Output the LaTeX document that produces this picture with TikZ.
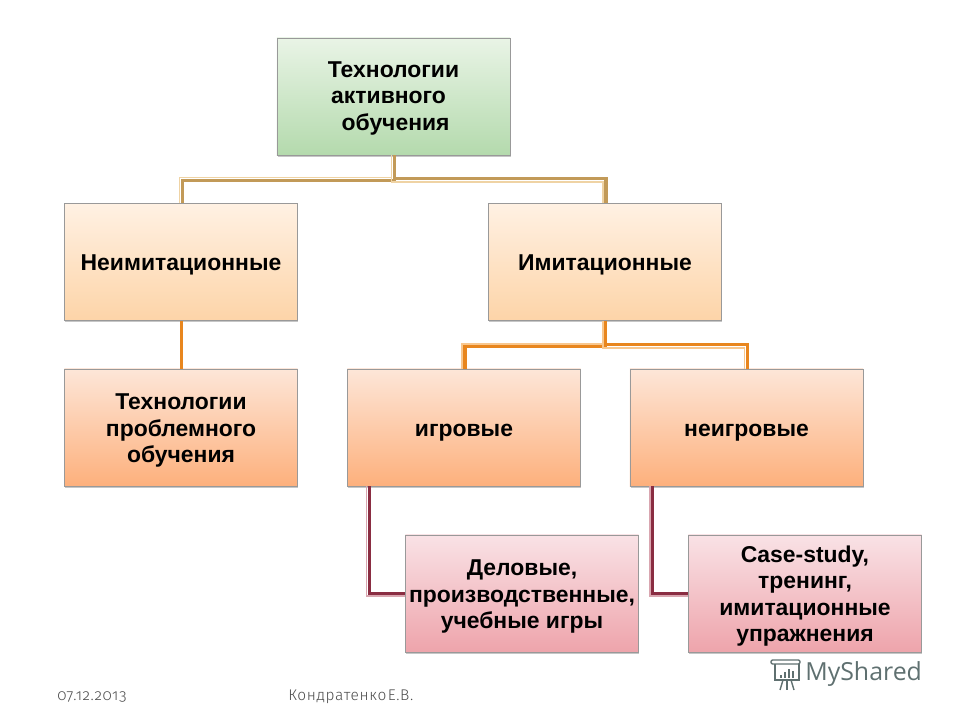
\documentclass[tikz,border=0pt]{standalone}
\usepackage{fontspec}
\usepackage{xcolor}
\usetikzlibrary{shadows}
\setmainfont{Liberation Sans}
\newfontfamily\footfont[Numbers=OldStyle,LetterSpace=4,WordSpace=0.3]{Fira Sans Light}
\newfontfamily\logofont{Open Sans}
\newcommand{\lift}{\rule{0pt}{15.5pt}}
\definecolor{rootTop}{HTML}{E9F4E6}
\definecolor{rootBot}{HTML}{B4DAAD}
\definecolor{peachTop}{HTML}{FFF1E3}
\definecolor{peachBot}{HTML}{FDD4A8}
\definecolor{orangeTop}{HTML}{FDE6D8}
\definecolor{orangeBot}{HTML}{FDB07C}
\definecolor{pinkTop}{HTML}{F9E2E6}
\definecolor{pinkBot}{HTML}{EEA4AB}
\definecolor{tanLink}{HTML}{C29A58}
\definecolor{tanPale}{HTML}{EFD3A4}
\definecolor{orangeLink}{HTML}{E8861E}
\definecolor{orangePale}{HTML}{F8C78E}
\definecolor{wineLink}{HTML}{8A2D42}
\definecolor{winePale}{HTML}{D9A6B0}
\definecolor{logoGray}{HTML}{5F7070}
\tikzset{
  box/.style={draw=black!40,line width=0.5pt,minimum width=5.825cm,minimum height=2.925cm,
    align=center,inner sep=0pt,font=\fontsize{16.3}{18.8}\selectfont\bfseries,
    drop shadow={shadow xshift=0.5pt,shadow yshift=-1.2pt,opacity=0.45}},
  rootbox/.style={box,top color=rootTop,bottom color=rootBot},
  peachbox/.style={box,top color=peachTop,bottom color=peachBot},
  orangebox/.style={box,top color=orangeTop,bottom color=orangeBot},
  pinkbox/.style={box,top color=pinkTop,bottom color=pinkBot},
  linkdark/.style={line width=2.2pt,line join=miter},
  linkpale/.style={line width=1pt,line join=miter},
  foot/.style={font=\footfont\fontsize{11}{13}\selectfont,text=black!70,inner sep=0pt}
}
\begin{document}
\begin{tikzpicture}[x=0.025cm,y=-0.025cm]
    \useasboundingbox (0,0) rectangle (960,720);
    % boxes
    \node[rootbox] (root) at (393.5,96.5) {\lift Технологии\\\hspace*{-7pt}активного\\\hspace*{3pt}обучения\rule[-5pt]{0pt}{1pt}};
    \node[peachbox] (neimit) at (181,262) {\lift Неимитационные};
    \node[peachbox] (imit) at (605,262) {\lift Имитационные};
    \node[orangebox] (problem) at (181,427.5) {\lift Технологии\\проблемного\\обучения};
    \node[orangebox] (game) at (464,427.5) {\lift игровые};
    \node[orangebox] (nongame) at (746.5,427.5) {\lift неигровые};
    \node[pinkbox] (business) at (522,593.5) {\lift Деловые,\\производственные,\\учебные игры};
    \node[pinkbox] (casestudy) at (805,593.5) {\lift Case-study,\\тренинг,\\имитационные\\упражнения};
    % first level
    \draw[linkpale,tanPale] ([shift={(-2,0)}]root.south) -- ++(0,22) -| ([shift={(-1.5,0)}]neimit.north);
    \draw[linkdark,tanLink] ([shift={(0.8,0)}]root.south) -- ++(0,25.5) -| ([shift={(1.7,0)}]neimit.north);
    \draw[linkpale,tanPale] ([shift={(-2,0)}]root.south) -- ++(0,26.5) -| ([shift={(-2,0)}]imit.north);
    \draw[linkdark,tanLink] ([shift={(0.8,0)}]root.south) -- ++(0,23) -| ([shift={(1,0)}]imit.north);
    % second level
    \draw[linkdark,orangeLink] ([shift={(0.5,0)}]neimit.south) -- ([shift={(0.5,0)}]problem.north);
    \draw[linkpale,orangePale] ([shift={(-2,0)}]imit.south) -- ++(0,23) -| ([shift={(-2,0)}]game.north);
    \draw[linkdark,orangeLink] ([shift={(0.6,0)}]imit.south) -- ++(0,25.5) -| ([shift={(1,0)}]game.north);
    \draw[linkpale,orangePale] ([shift={(-2,0)}]imit.south) -- ++(0,27) -| ([shift={(-2,0)}]nongame.north);
    \draw[linkdark,orangeLink] ([shift={(0.6,0)}]imit.south) -- ++(0,24) -| ([shift={(1,0)}]nongame.north);
    % third level
    \draw[linkpale,winePale] ([shift={(19.5,0)}]game.south west) |- ([shift={(0,2.5)}]business.west);
    \draw[linkdark,wineLink] ([shift={(22,0)}]game.south west) |- (business.west);
    \draw[linkpale,winePale] ([shift={(20.5,0)}]nongame.south west) |- ([shift={(0,2.5)}]casestudy.west);
    \draw[linkdark,wineLink] ([shift={(23,0)}]nongame.south west) |- (casestudy.west);
    % footer
    \node[foot,anchor=west] (date) at (57,697) {07.12.2013};
    \node[foot,anchor=west] (author) at (288,696.5) {Кондратенко Е.В.};
    % logo
    \node[anchor=west,inner sep=0pt,text=logoGray,font=\logofont\fontsize{17.7}{22}\selectfont] (logotext) at (805,674) {MyShared};
    \draw[logoGray,line width=1pt,rounded corners=1pt] (771,660) -- (800,660) -- (800,664) -- (771,664) -- cycle;
    \draw[logoGray,line width=1pt] (775,664) -- (775,680) -- (799,680) -- (799,664);
    \fill[logoGray] (780,675) rectangle (782,678);
    \fill[logoGray] (784,672) rectangle (786,678);
    \fill[logoGray] (788,669) rectangle (790,678);
    \fill[logoGray] (792,671) rectangle (794,678);
    \draw[logoGray,line width=1pt] (783,680) -- (780,690);
    \draw[logoGray,line width=1pt] (787,680) -- (787,690);
    \draw[logoGray,line width=1pt] (791,680) -- (794,690);
\end{tikzpicture}
\end{document}
